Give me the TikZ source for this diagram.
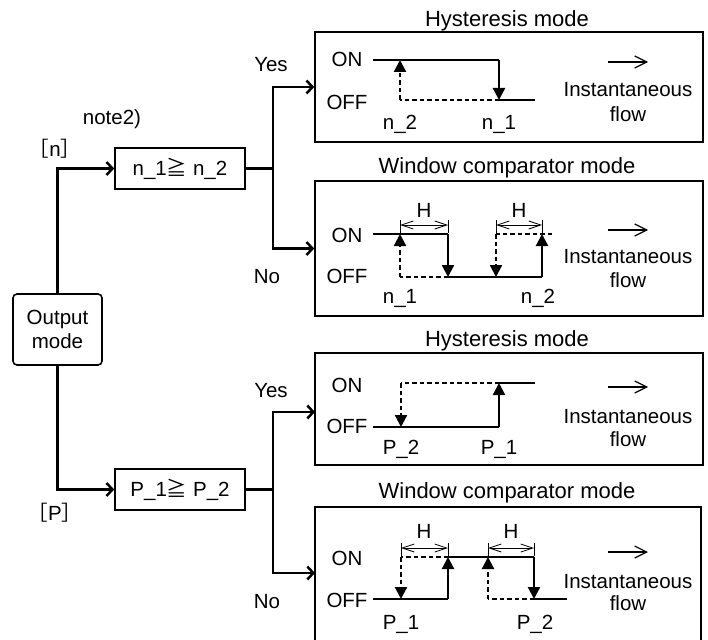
\documentclass[tikz,border=0pt]{standalone}
\usepackage{fontspec}
\setmainfont{Liberation Sans}
\newfontfamily\cjkf{Noto Sans CJK JP}
\usetikzlibrary{arrows.meta}
\begin{document}
\begin{tikzpicture}[x=1pt,y=-1pt,
  every node/.style={font=\fontsize{20.5}{24}\selectfont, inner sep=0pt},
  txt/.style={anchor=base},
  ttl/.style={anchor=base,font=\fontsize{22}{24}\selectfont},
  modebox/.style={draw,line width=1.6pt,minimum width=388pt},
  cmpbox/.style={draw,line width=1.6pt,minimum width=130pt,minimum height=41pt},
  conn/.style={line width=2.5pt,-{Straight Barb[length=6pt,width=13pt]}},
  gl/.style={line width=2.2pt},
  gd/.style={line width=2.2pt,dash pattern=on 4.5pt off 3pt},
  tri/.style={-{Triangle[length=12pt,width=12pt]}},
  dimline/.style={line width=0.8pt,{Straight Barb[length=12pt,width=8pt]}-{Straight Barb[length=12pt,width=8pt]}},
  tick/.style={line width=0.8pt},
  farrow/.style={line width=1.2pt,-{Straight Barb[length=12pt,width=12pt]}}
]
\useasboundingbox (0,0) rectangle (708,639);

% ---------- left side ----------
\node[draw,line width=1.6pt,rounded corners=4pt,minimum width=89pt,minimum height=71pt,align=center] (out) at (57.5,329.5) {Output\\mode};
\node[cmpbox] (ncmp) at (180,168.5) {n\_1{\cjkf ≧} n\_2};
\node[cmpbox] (pcmp) at (180,489.5) {P\_1{\cjkf ≧} P\_2};

\node[txt] (note) at (112,125) {note2)};
\node[txt] (nlab) at (55,157) {{\cjkf ［}n{\cjkf ］}};
\node[txt] (plab) at (55,520) {{\cjkf ［}P{\cjkf ］}};
\node[txt] (yes1) at (271,72) {Yes};
\node[txt] (no1) at (267,283) {No};
\node[txt] (yes2) at (271,397) {Yes};
\node[txt] (no2) at (267,608) {No};

% ---------- mode boxes ----------
\node[modebox,minimum height=110pt] (H1) at (509,87) {};
\node[modebox,minimum height=135pt] (W1) at (509,248.5) {};
\node[modebox,minimum height=112pt] (H2) at (509,409) {};
\coordinate (W2w) at (315,573);
\draw[line width=1.6pt] (315,640) |- (701,507) -- (701,640);

\node[ttl] (tH1) at (507,27) {Hysteresis mode};
\node[ttl] (tW1) at (507,173) {Window comparator mode};
\node[ttl] (tH2) at (507,346) {Hysteresis mode};
\node[ttl] (tW2) at (507,498) {Window comparator mode};

% ---------- connectors ----------
\coordinate (nbr) at (273,168.5);
\coordinate (pbr) at (273,489.5);
\draw[conn] (out.north) |- (ncmp.west);
\draw[conn] (out.south) |- (pcmp.west);
\draw[line width=2.5pt] (ncmp.east) -- (nbr);
\draw[line width=2.5pt] (pcmp.east) -- (pbr);
\draw[conn] (nbr) |- (H1.west);
\draw[conn] (nbr) |- (W1.west);
\coordinate (H2in) at (315,412);
\draw[conn] (pbr) |- (H2in);
\draw[conn] (pbr) |- (W2w);

% ---------- common labels ----------
\foreach \b/\on/\off/\ar/\ins/\fl in {1/67/110/62/97/122, 2/242/283/230/263/287, 3/392/433/387/423/446, 4/565/607/552/588/610}{
  \node[txt] (on\b) at (347,\on) {ON};
  \node[txt] (off\b) at (347,\off) {OFF};
  \coordinate (fa\b) at (608,\ar);
  \coordinate (fb\b) at (648,\ar);
  \draw[farrow] (fa\b) -- (fb\b);
  \node[txt] (ins\b) at (628,\ins) {Instantaneous};
  \node[txt] (flw\b) at (628,\fl) {flow};
}

% ---------- Hysteresis n ----------
\draw[gl] (373,60) -- (499,60);
\draw[gl,tri] (499,60) -- (499,100);
\draw[gl] (499,100) -- (535,100);
\draw[gd] (499,100) -- (400,100);
\draw[gd,tri] (400,100) -- (400,60);
\node[txt] (hn2) at (400,130) {n\_2};
\node[txt] (hn1) at (499,130) {n\_1};

% ---------- Window n ----------
\draw[gl] (373,234) -- (448,234);
\draw[gl,tri] (448,234) -- (448,277);
\draw[gl] (448,277) -- (542,277);
\draw[gl,tri] (542,277) -- (542,234);
\draw[gd] (448,277) -- (400,277);
\draw[gd,tri] (400,277) -- (400,234);
\draw[gd] (552,234) -- (496,234);
\draw[gd,tri] (496,234) -- (496,277);
\draw[tick] (400,220) -- (400,233) (448,220) -- (448,233) (496,220) -- (496,233) (542,220) -- (542,233);
\draw[dimline] (400,225) -- (448,225);
\draw[dimline] (496,225) -- (542,225);
\node[txt] (wh1) at (424,217) {H};
\node[txt] (wh2) at (519,217) {H};
\node[txt] (wn1) at (400,303) {n\_1};
\node[txt] (wn2) at (538,303) {n\_2};

% ---------- Hysteresis P ----------
\draw[gl] (373,427) -- (499,427);
\draw[gl,tri] (499,427) -- (499,383);
\draw[gl] (499,383) -- (535,383);
\draw[gd] (499,383) -- (401,383);
\draw[gd,tri] (401,383) -- (401,427);
\node[txt] (hp2) at (401,454) {P\_2};
\node[txt] (hp1) at (499,454) {P\_1};

% ---------- Window P ----------
\draw[gl] (373,599) -- (448,599);
\draw[gl,tri] (448,599) -- (448,557);
\draw[gl] (448,557) -- (534,557);
\draw[gl,tri] (534,557) -- (534,599);
\draw[gl] (534,599) -- (567,599);
\draw[gd] (448,557) -- (401,557);
\draw[gd,tri] (401,557) -- (401,599);
\draw[gd] (534,599) -- (488,599);
\draw[gd,tri] (488,599) -- (488,557);
\draw[tick] (401,543) -- (401,556) (448,543) -- (448,556) (488,543) -- (488,556) (534,543) -- (534,556);
\draw[dimline] (401,548) -- (448,548);
\draw[dimline] (488,548) -- (534,548);
\node[txt] (wph1) at (424,538) {H};
\node[txt] (wph2) at (511,538) {H};
\node[txt] (wp1) at (401,629) {P\_1};
\node[txt] (wp2) at (535,629) {P\_2};
\end{tikzpicture}
\end{document}
